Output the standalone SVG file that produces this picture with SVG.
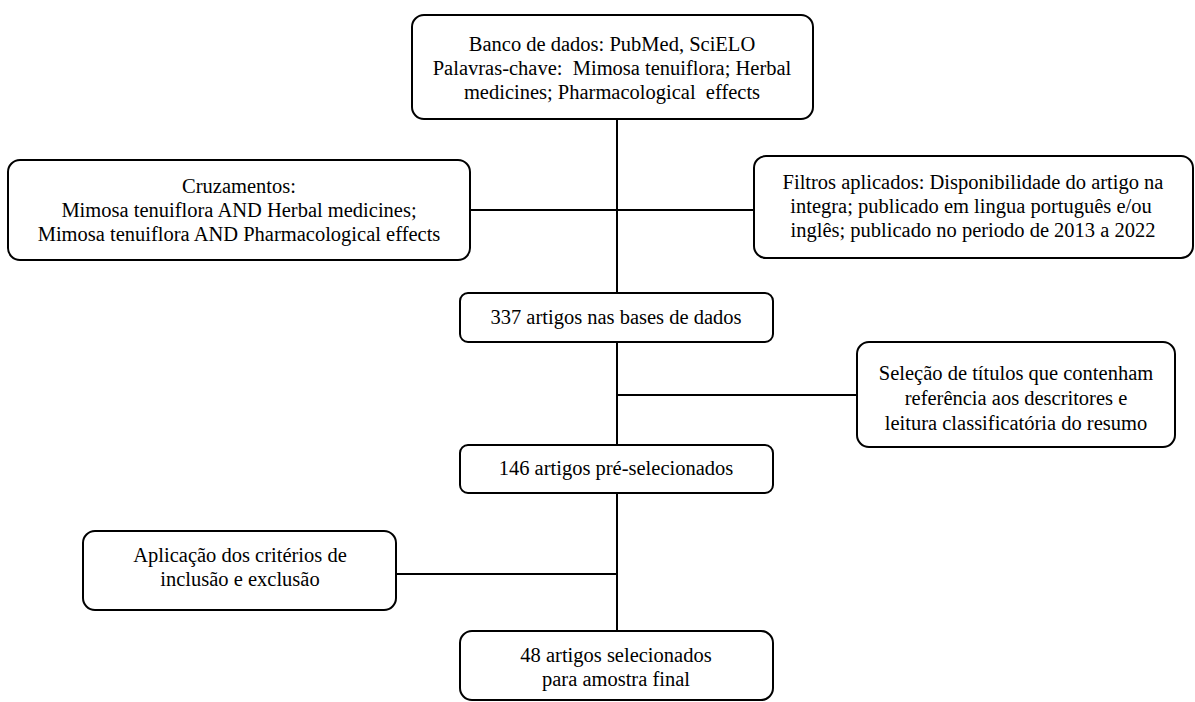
<svg xmlns="http://www.w3.org/2000/svg" width="1195" height="702" viewBox="0 0 1195 702">
<style>
.box{fill:#fff;stroke:#000;stroke-width:2}
.ln{stroke:#000;stroke-width:2;fill:none}
text{font-family:"Liberation Serif","Times New Roman",serif;font-size:20.5px;fill:#000;text-anchor:middle;white-space:pre}
</style>
<rect width="1195" height="702" fill="#fff"/>
<g id="connectors">
<line class="ln" x1="617" y1="119" x2="617" y2="631"/>
<line class="ln" x1="470" y1="210" x2="754" y2="210"/>
<line class="ln" x1="617" y1="395" x2="857" y2="395"/>
<line class="ln" x1="396" y1="574" x2="617" y2="574"/>
</g>
<g id="n1">
<rect class="box" x="412" y="15" width="401" height="104" rx="12"/>
<text x="612" y="51">Banco de dados: PubMed, SciELO</text>
<text x="612" y="75">Palavras-chave:  Mimosa tenuiflora; Herbal</text>
<text x="612" y="99">medicines; Pharmacological  effects</text>
</g>
<g id="n2">
<rect class="box" x="8" y="160" width="462" height="100" rx="12"/>
<text x="239" y="193">Cruzamentos:</text>
<text x="239" y="217">Mimosa tenuiflora AND Herbal medicines;</text>
<text x="239" y="241">Mimosa tenuiflora AND Pharmacological effects</text>
</g>
<g id="n3">
<rect class="box" x="754" y="156" width="439" height="102" rx="12"/>
<text x="973" y="189">Filtros aplicados: Disponibilidade do artigo na</text>
<text x="971" y="213">integra; publicado em lingua português e/ou</text>
<text x="973" y="237">inglês; publicado no periodo de 2013 a 2022</text>
</g>
<g id="n4">
<rect class="box" x="460" y="293" width="313" height="49" rx="8"/>
<text x="616" y="324">337 artigos nas bases de dados</text>
</g>
<g id="n5">
<rect class="box" x="857" y="342" width="318" height="105" rx="12"/>
<text x="1016" y="380">Seleção de títulos que contenham</text>
<text x="1016" y="405">referência aos descritores e</text>
<text x="1016" y="430">leitura classificatória do resumo</text>
</g>
<g id="n6">
<rect class="box" x="460" y="445" width="313" height="48" rx="8"/>
<text x="616" y="475">146 artigos pré-selecionados</text>
</g>
<g id="n7">
<rect class="box" x="83" y="531" width="313" height="79" rx="12"/>
<text x="240" y="562">Aplicação dos critérios de</text>
<text x="240" y="586">inclusão e exclusão</text>
</g>
<g id="n8">
<rect class="box" x="460" y="631" width="313" height="69" rx="12"/>
<text x="616" y="662">48 artigos selecionados</text>
<text x="616" y="686">para amostra final</text>
</g>
</svg>
